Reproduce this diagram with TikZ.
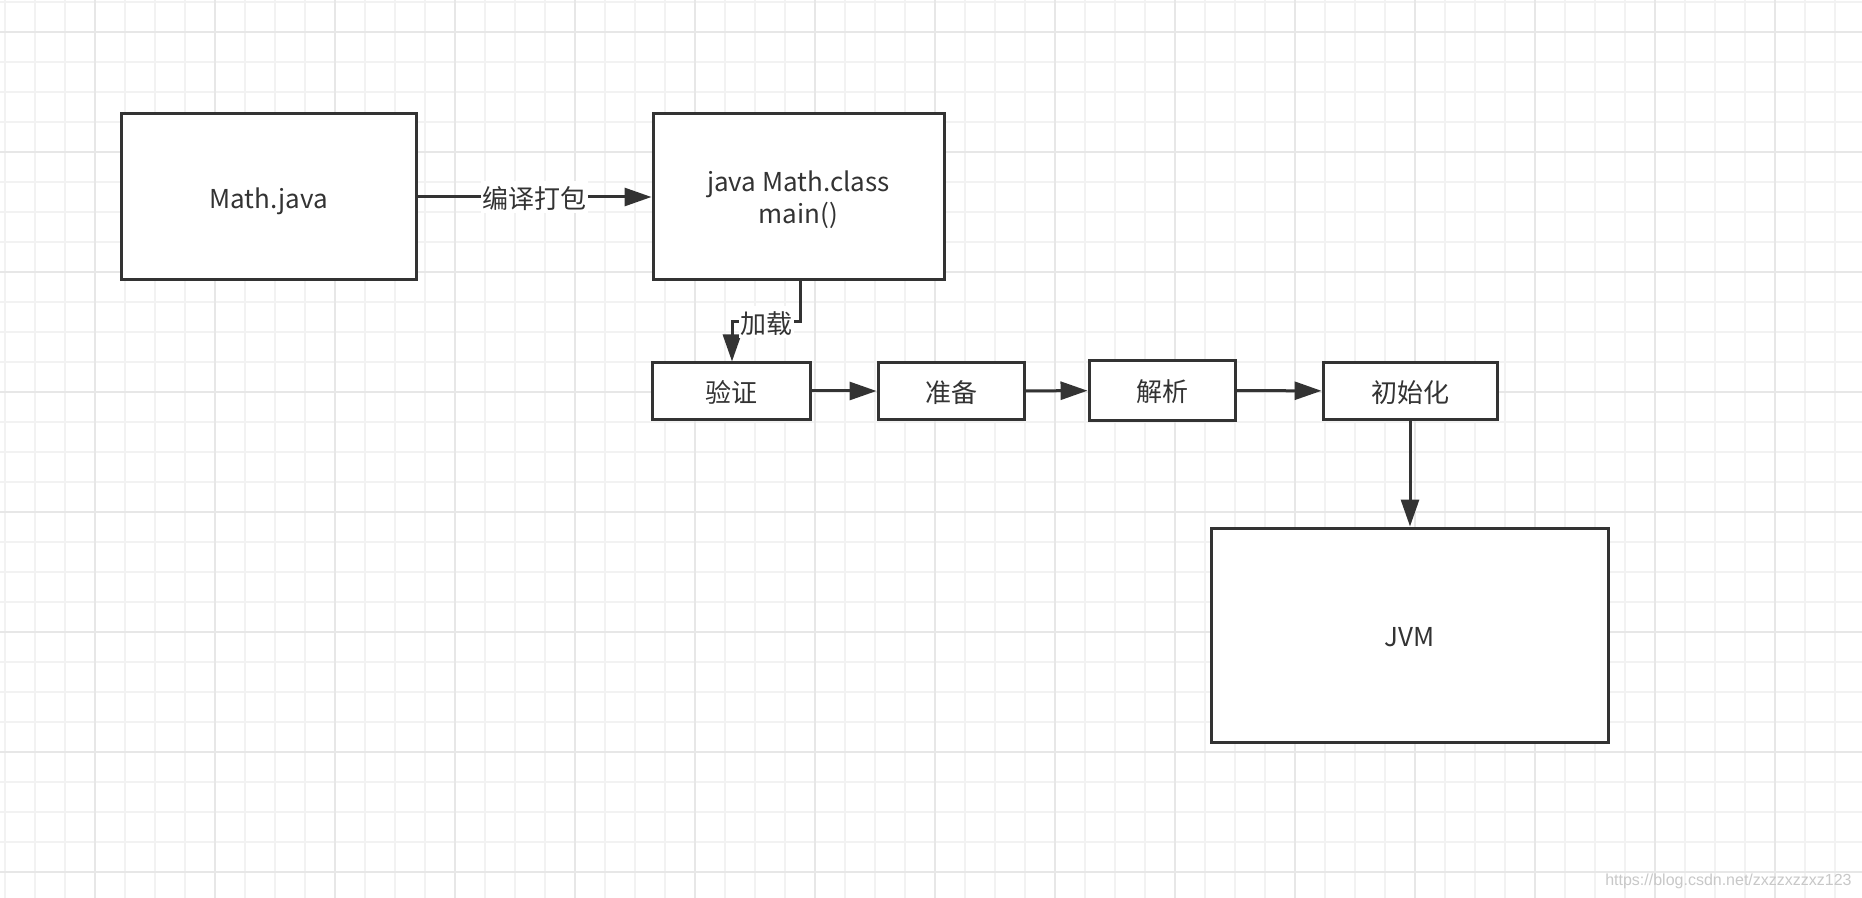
\documentclass[tikz,border=0pt]{standalone}
\usepackage{fontspec}
\setmainfont{Noto Sans CJK SC}
\newfontfamily\wmfont{Liberation Sans}
\usetikzlibrary{arrows.meta}
\definecolor{ink}{HTML}{333333}
\definecolor{gminor}{HTML}{F2F2F2}
\definecolor{gmajor}{HTML}{E7E7E7}
\definecolor{wm}{HTML}{C8C8C8}
\begin{document}
\begin{tikzpicture}[x=0.5pt,y=-0.5pt,
  box/.style={draw=ink, line width=1.5pt, fill=white, text=ink, inner sep=0pt,
    font=\fontsize{13}{16}\selectfont, text height=11.5pt, text depth=0.2pt},
  conn/.style={draw=ink, line width=1.5pt, -{Triangle[length=13.5pt,width=9pt]}},
  lbl/.style={fill=white, text=ink, inner xsep=0.75pt, inner ysep=2pt,
    font=\fontsize{13}{16}\selectfont, text height=11.5pt, text depth=0.2pt},
  gridminor/.style={draw=gminor, line width=1pt},
  gridmajor/.style={draw=gmajor, line width=1.2pt}]
\useasboundingbox (0,0) rectangle (1862,898);
\fill[white] (0,0) rectangle (1862,898);
% background grid
\foreach \x in {5,35,...,1855} \draw[gridminor] (\x,0) -- (\x,898);
\foreach \y in {2,32,...,898} \draw[gridminor] (0,\y) -- (1862,\y);
\foreach \x in {95,215,...,1855} \draw[gridmajor] (\x,0) -- (\x,898);
\foreach \y in {32,152,...,898} \draw[gridmajor] (0,\y) -- (1862,\y);
% nodes
\node[box, minimum width=147.5pt, minimum height=83pt] (java) at (268.5,197) {Math.java};
\node[box, minimum width=145.5pt, minimum height=83pt, text height=27.2pt, text depth=0.2pt] (cls) at (798.5,197)
  {\begin{tabular}[b]{@{}c@{}}java Math.class\\main()\end{tabular}};
\node[box, minimum width=79pt, minimum height=28pt] (yz) at (731,391) {验证};
\node[box, minimum width=73pt, minimum height=28pt] (zb) at (951,391) {准备};
\node[box, minimum width=73pt, minimum height=29.5pt] (jx) at (1162,390.5) {解析};
\node[box, minimum width=87pt, minimum height=28pt] (csh) at (1410,391) {初始化};
\node[box, minimum width=198.5pt, minimum height=107pt] (jvm) at (1409.5,635) {JVM};
% connectors
\draw[conn] (java) -- node[lbl]{编译打包} (cls);
\coordinate (k1) at (800,322);
\coordinate (k2) at (732,322);
\draw[conn] (cls.south -| k1) -- (k1) -- node[lbl]{加载} (k2) -- (yz.north -| k2);
\draw[conn] (yz) -- (zb);
\draw[conn] (zb) -- (jx);
\draw[conn] (jx) -- (csh);
\draw[conn] (csh.south) -- (csh.south |- jvm.north);
% watermark
\node[font=\wmfont\fontsize{8}{10}\selectfont, text=wm, anchor=base east, inner sep=0pt] (wmk) at (1852,885) {https://blog.csdn.net/zxzzxzzxz123};
\end{tikzpicture}
\end{document}
